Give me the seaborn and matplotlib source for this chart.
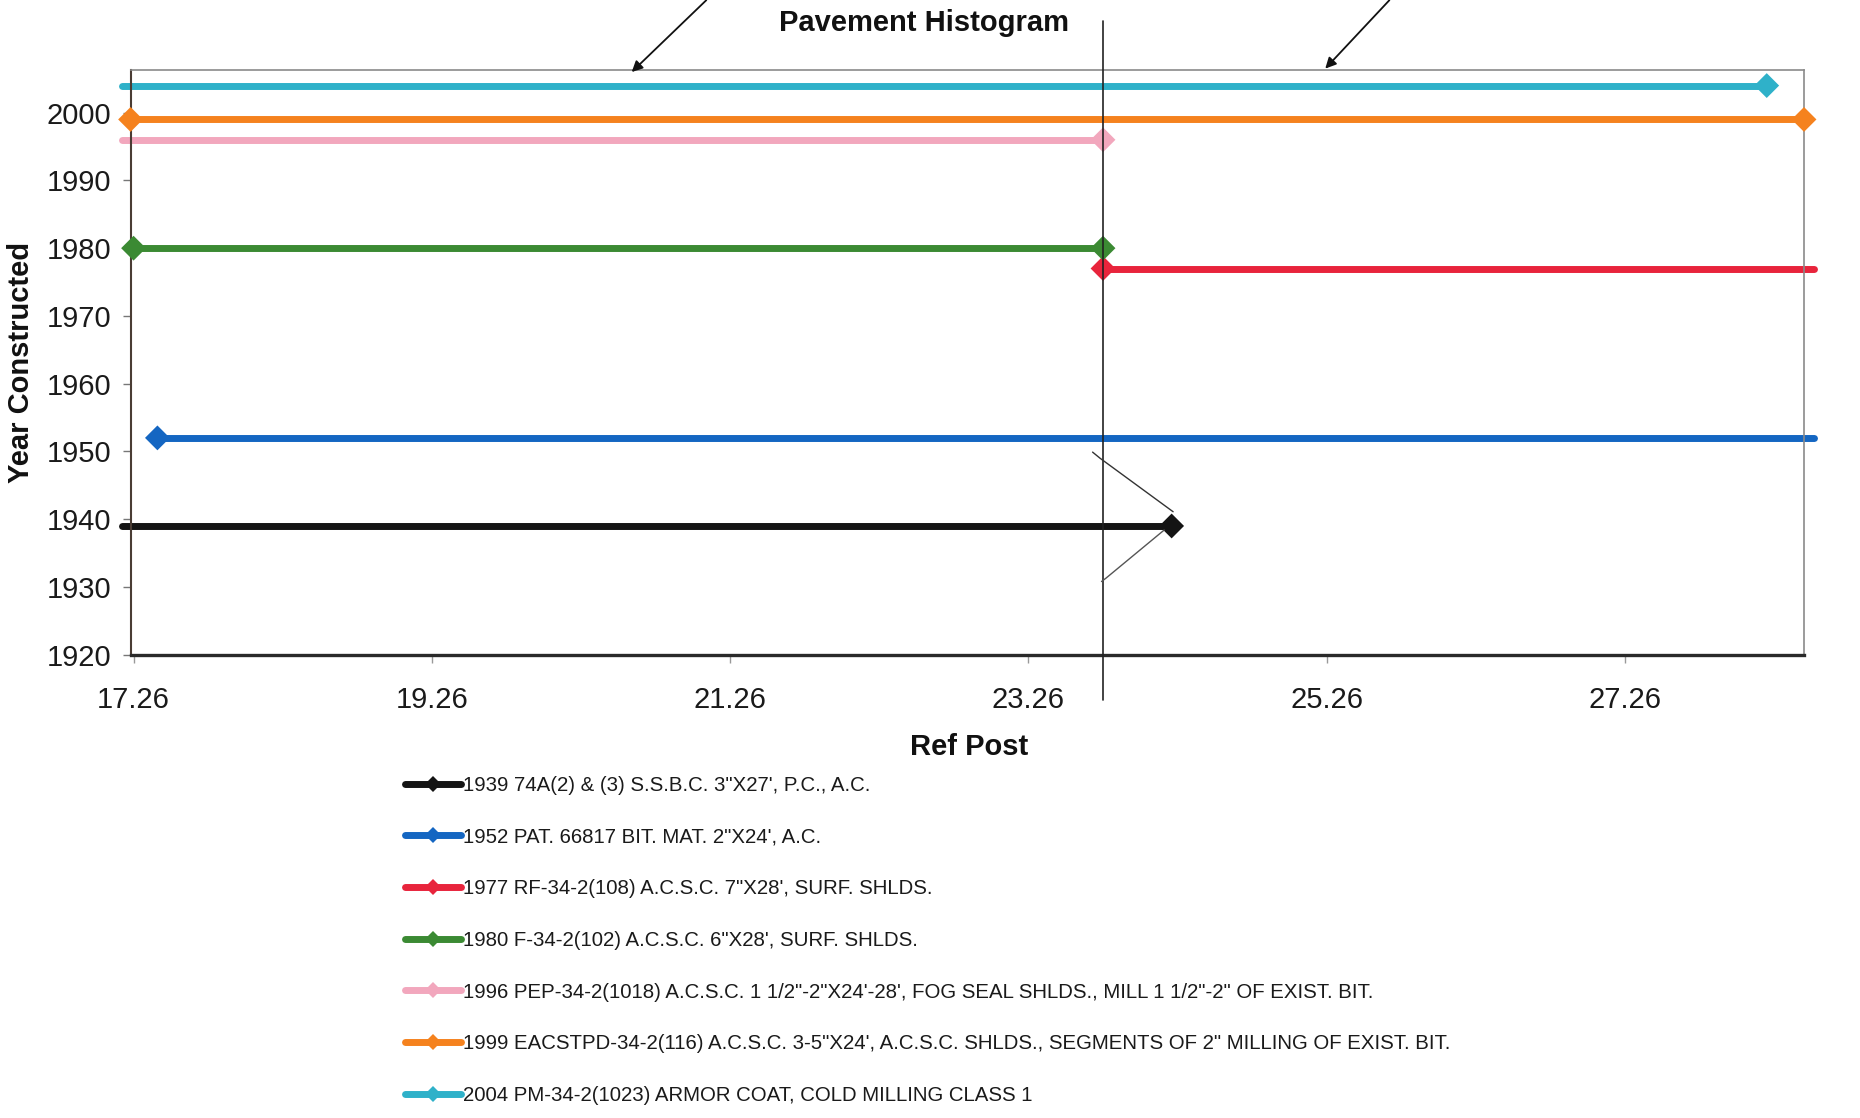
import matplotlib
matplotlib.use("Agg")
import matplotlib.pyplot as plt
from matplotlib.lines import Line2D
import pandas as pd
import seaborn as sns

# Pavement layers: year built, description, ref-post extent, which end carries a marker
years = [1939, 1952, 1977, 1980, 1996, 1999, 2004]
descriptions = [
    "74A(2) & (3) S.S.B.C. 3\"X27', P.C., A.C.",
    "PAT. 66817 BIT. MAT. 2\"X24', A.C.",
    "RF-34-2(108) A.C.S.C. 7\"X28', SURF. SHLDS.",
    "F-34-2(102) A.C.S.C. 6\"X28', SURF. SHLDS.",
    "PEP-34-2(1018) A.C.S.C. 1 1/2\"-2\"X24'-28', FOG SEAL SHLDS., MILL 1 1/2\"-2\" OF EXIST. BIT.",
    "EACSTPD-34-2(116) A.C.S.C. 3-5\"X24', A.C.S.C. SHLDS., SEGMENTS OF 2\" MILLING OF EXIST. BIT.",
    "PM-34-2(1023) ARMOR COAT, COLD MILLING CLASS 1",
]
start_post = [17.18, 17.42, 23.76, 17.26, 17.18, 17.24, 17.18]
end_post = [24.22, 28.53, 28.53, 23.76, 23.76, 28.46, 28.21]
marker_ends = ["end", "start", "start", "both", "end", "both", "end"]
colors = ["#141414", "#1466c2", "#e8243c", "#3b8a33", "#f2a7bd", "#f5821e", "#2fb1c9"]

ref_post_ticks = [17.26, 19.26, 21.26, 23.26, 25.26, 27.26]
year_ticks = list(range(1920, 2001, 10))
division_post = 23.76

labels = [f"{y} {d}" for y, d in zip(years, descriptions)]
palette = dict(zip(labels, colors))

line_rows, marker_rows = [], []
for lab, y, s, e, m in zip(labels, years, start_post, end_post, marker_ends):
    line_rows += [(lab, s, y), (lab, e, y)]
    if m in ("start", "both"):
        marker_rows.append((lab, s, y))
    if m in ("end", "both"):
        marker_rows.append((lab, e, y))
lines_df = pd.DataFrame(line_rows, columns=["layer", "post", "year"])
markers_df = pd.DataFrame(marker_rows, columns=["layer", "post", "year"])

sns.set_theme(style="white")
plt.rcParams["font.family"] = ["Liberation Sans", "DejaVu Sans"]

fig = plt.figure(figsize=(18.6, 11.18), dpi=100)
ax = fig.add_axes([0.0702, 0.4144, 0.8997, 0.523])

sns.lineplot(data=lines_df, x="post", y="year", hue="layer", palette=palette,
             hue_order=labels, sort=False, estimator=None, lw=5.0,
             legend=False, ax=ax)
sns.scatterplot(data=markers_df, x="post", y="year", hue="layer", palette=palette,
                hue_order=labels, marker="D", s=160, linewidth=0,
                legend=False, ax=ax, zorder=4)
for ln in ax.lines:
    ln.set_clip_on(False)
for coll in ax.collections:
    coll.set_clip_on(False)

ax.set_xlim(17.24, 28.46)
ax.set_ylim(1920, 2006.3)
ax.set_xticks(ref_post_ticks)
ax.set_xticklabels([f"{t:.2f}" for t in ref_post_ticks])
ax.set_yticks(year_ticks)

ax.tick_params(axis="y", which="major", left=True, direction="out", length=6,
               width=1, color="#777777", pad=8, labelsize=21, labelcolor="#1a1a1a")
ax.tick_params(axis="x", which="major", bottom=True, direction="out", length=6,
               width=1, color="#999999", pad=16.5, labelsize=21, labelcolor="#1a1a1a")

for side in ("top", "right"):
    ax.spines[side].set_color("#8a8a8a")
    ax.spines[side].set_linewidth(1.2)
ax.spines["left"].set_color("#4a3c34")
ax.spines["left"].set_linewidth(1.5)
ax.spines["bottom"].set_color("#2a2a2a")
ax.spines["bottom"].set_linewidth(2.4)

ax.set_xlabel("Ref Post", fontsize=21, fontweight="bold", color="#111111")
ax.xaxis.set_label_coords(0.501, -0.158)
ax.xaxis.label.set_va("center")
ax.set_ylabel("Year Constructed", fontsize=21, fontweight="bold", color="#111111")
ax.yaxis.set_label_coords(-0.0655, 0.50)
ax.yaxis.label.set_va("center")

ax.text(0.474, 1.080, "Pavement Histogram", transform=ax.transAxes,
        ha="center", va="center", fontsize=21, fontweight="bold", color="#111111")

# project division marker
ax.axvline(division_post, ymin=-0.078, ymax=1.083, color="#222222", lw=1.2,
           clip_on=False, zorder=5)

# pointer arrows onto the top frame
for tail, tip in [((21.10, 2016.6), (20.60, 2006.0)), ((25.68, 2016.6), (25.25, 2006.5))]:
    ax.annotate("", xy=tip, xytext=tail, annotation_clip=False,
                arrowprops=dict(arrowstyle="-|>", color="#111111", lw=1.3,
                                mutation_scale=16, shrinkA=0, shrinkB=0))

# hand-drawn bracket around the 1939 end point
ax.plot([23.69, 23.74, 24.23], [1949.9, 1949.0, 1941.1], color="#333333", lw=1.0,
        clip_on=False, zorder=5)
ax.plot([24.17, 23.78, 23.75], [1938.4, 1931.3, 1930.8], color="#555555", lw=1.0,
        clip_on=False, zorder=5)

handles = [Line2D([], [], color=c, lw=5.0, marker="D", markersize=8,
                  markeredgewidth=0) for c in colors]
fig.legend(handles, labels, loc="upper left", bbox_to_anchor=(0.218, 0.306),
           frameon=False, fontsize=14.7, handlelength=2.7, handletextpad=0.1,
           labelspacing=1.6, borderpad=0, borderaxespad=0, labelcolor="#1a1a1a")

fig.savefig("out.png", dpi=100, facecolor="white")
